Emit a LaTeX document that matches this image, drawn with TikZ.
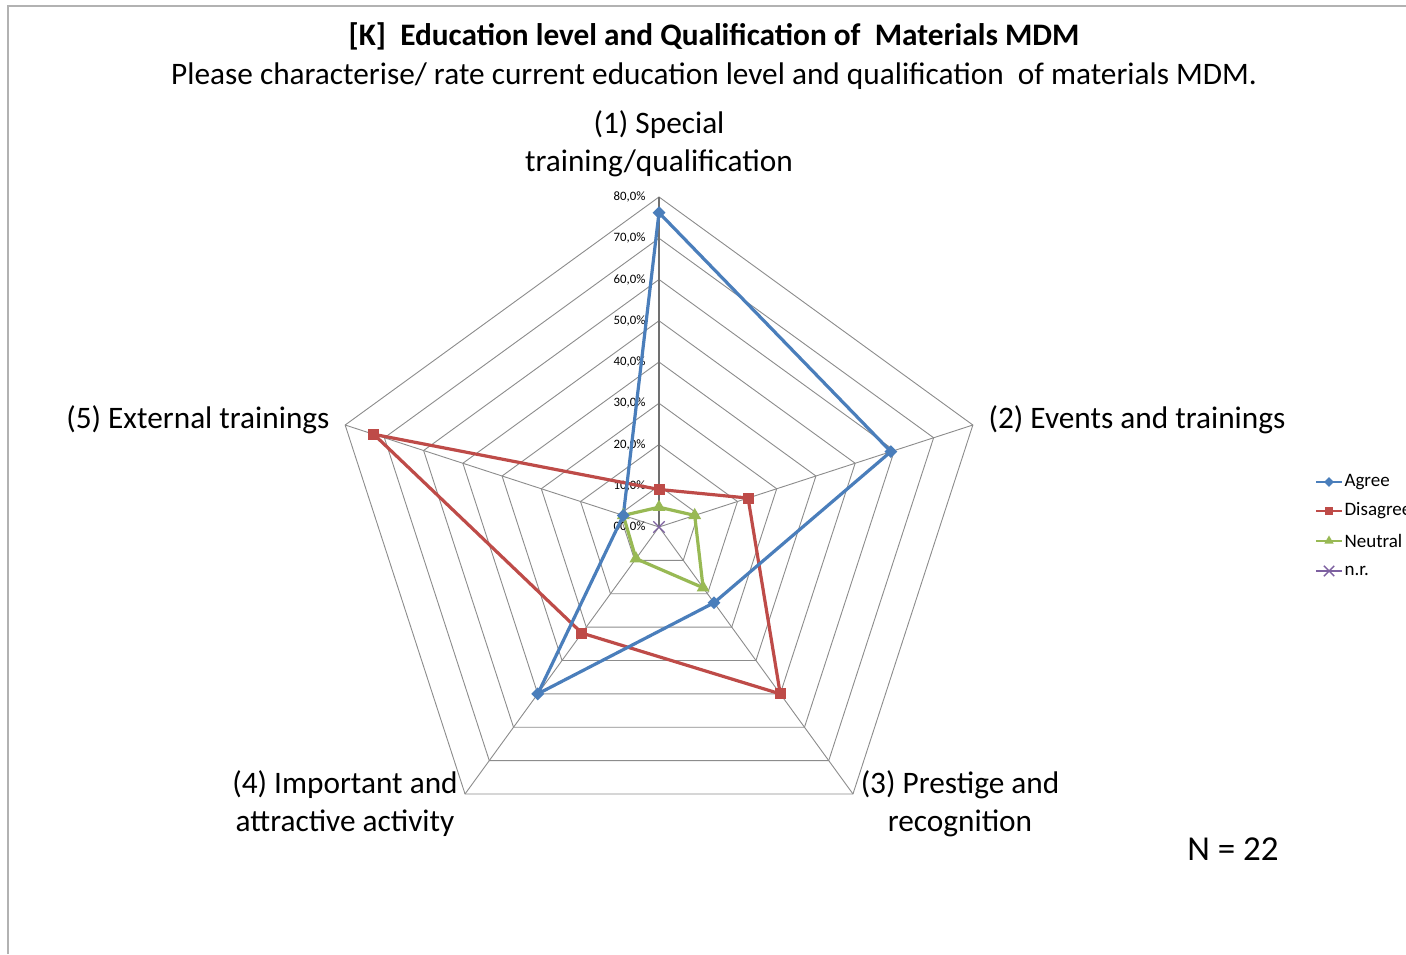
\documentclass[tikz,border=0pt]{standalone}
\usepackage{fontspec}
\setmainfont{Carlito}
\usetikzlibrary{shapes.geometric,shapes.misc}
\definecolor{cagree}{HTML}{4A7EBB}
\definecolor{cdis}{HTML}{BE4B48}
\definecolor{cneu}{HTML}{98B954}
\definecolor{cnr}{HTML}{7D60A0}
\definecolor{cgrid}{HTML}{8C8C8C}
\tikzset{
  gridline/.style={draw=cgrid,line width=0.9pt},
  axisline/.style={draw=cgrid!80!black,line width=1.6pt},
  series/.style={line width=3.2pt,line join=round},
  mdiam/.style={diamond,fill=cagree,inner sep=0pt,minimum size=13pt},
  msq/.style={rectangle,fill=cdis,inner sep=0pt,minimum size=11pt},
  mtri/.style={regular polygon,regular polygon sides=3,fill=cneu,inner sep=0pt,minimum size=15pt},
  mx/.style={cross out,draw=cnr,line width=1.4pt,inner sep=0pt,minimum size=10pt},
  big/.style={font=\fontsize{31.3}{38}\selectfont},
  tick/.style={font=\fontsize{12.8}{15}\selectfont,anchor=east},
  leg/.style={font=\fontsize{19}{22}\selectfont,anchor=west}
}
\begin{document}
\begin{tikzpicture}[x=1pt,y=1pt]
\useasboundingbox (0,0) rectangle (1406,954);
\fill[white] (0,0) rectangle (1406,954);
\draw[draw=black!30,line width=1.4pt] (8,0) -- (8,948) -- (1406,948);
% title
\node[font=\fontsize{31.3}{38}\selectfont\bfseries] (title) at (714,918) {[K]\ \ Education level and Qualification of\ \ Materials MDM};
\node[big] (sub) at (714,878) {Please characterise/ rate current education level and qualification\ \ of materials MDM.};
\begin{scope}[shift={(659,427)}]
\def\R{4.125}
\foreach \r in {1,...,8}{
  \draw[gridline] (90:\r*41.25) -- (18:\r*41.25) -- (-54:\r*41.25) -- (-126:\r*41.25) -- (162:\r*41.25) -- cycle;
}
\foreach \a in {18,-54,-126,162}{
  \draw[gridline] (0,0) -- (\a:330);
}
\draw[axisline] (0,0) -- (90:330);
\foreach \r in {0,...,8}{
  \node[tick] at (-10,\r*41.25) {\r0,0\%};
}
% series
\coordinate (a1) at (90:76.2*\R); \coordinate (a2) at (18:59.1*\R); \coordinate (a3) at (-54:22.7*\R); \coordinate (a4) at (-126:50*\R); \coordinate (a5) at (162:9.1*\R);
\coordinate (d1) at (90:9.1*\R); \coordinate (d2) at (18:22.7*\R); \coordinate (d3) at (-54:50*\R); \coordinate (d4) at (-126:31.8*\R); \coordinate (d5) at (162:72.7*\R);
\coordinate (n1) at (90:4.8*\R); \coordinate (n2) at (18:9.1*\R); \coordinate (n3) at (-54:18.2*\R); \coordinate (n4) at (-126:9.5*\R); \coordinate (n5) at (162:9.1*\R);
\coordinate (z) at (0,0);
\draw[series,draw=cneu] (n1) -- (n2) -- (n3) -- (n4) -- (n5) -- cycle;
\draw[series,draw=cdis] (d1) -- (d2) -- (d3) -- (d4) -- (d5) -- cycle;
\draw[series,draw=cagree] (a1) -- (a2) -- (a3) -- (a4) -- (a5) -- cycle;
\foreach \i in {1,...,5}{
  \node[mtri] at (n\i) {};
  \node[msq] at (d\i) {};
  \node[mdiam] at (a\i) {};
}
\node[mx] at (z) {};
\end{scope}
% axis labels
\node[big,align=center] (l1) at (659,810) {(1) Special\\training/qualification};
\node[big,anchor=west] (l2) at (985,534) {(2) Events and trainings};
\node[big,anchor=east] (l5) at (333,534) {(5) External trainings};
\node[big,align=center] (l3) at (960,150) {(3) Prestige and\\recognition};
\node[big,align=center] (l4) at (345,150) {(4) Important and\\attractive activity};
\node[font=\fontsize{35}{40}\selectfont] (nn) at (1233,105) {N = 22};
% legend
\draw[series,line width=2.4pt,draw=cagree] (1316,472) -- (1342,472); \node[mdiam,minimum size=10pt] at (1329,472) {};
\node[leg] (la) at (1341,472) {Agree};
\draw[series,line width=2.4pt,draw=cdis] (1316,443) -- (1342,443); \node[msq,minimum size=8pt] at (1329,443) {};
\node[leg] (ld) at (1341,443) {Disagree};
\draw[series,line width=2.4pt,draw=cneu] (1316,413) -- (1342,413); \node[mtri,minimum size=11pt] at (1329,413) {};
\node[leg] (ln) at (1341,413) {Neutral};
\draw[series,line width=2.4pt,draw=cnr] (1316,383) -- (1342,383); \node[mx,minimum size=9pt] at (1329,383) {};
\node[leg] (lr) at (1341,383) {n.r.};
\end{tikzpicture}
\end{document}
